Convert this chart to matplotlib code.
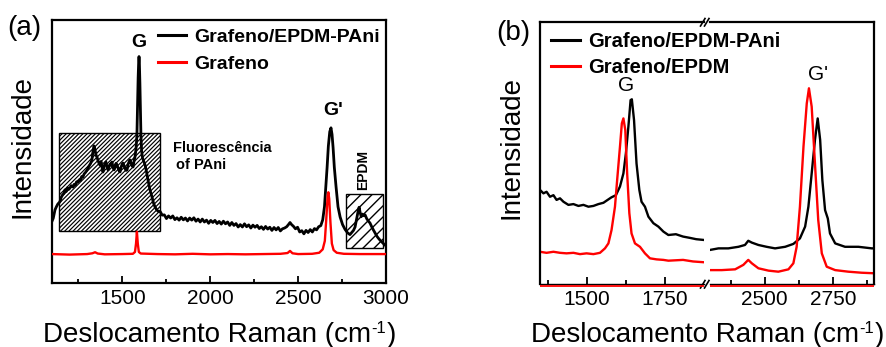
import matplotlib
matplotlib.use("Agg")
import matplotlib.pyplot as plt
from matplotlib.patches import Rectangle
from matplotlib.lines import Line2D
from matplotlib.font_manager import FontProperties
import matplotlib.transforms as mtransforms

plt.rcParams['font.family'] = ['Liberation Sans', 'DejaVu Sans']
plt.rcParams['hatch.linewidth'] = 0.9

# ---------------- data: panel (a) ----------------
a_black_x = [1100, 1107, 1112, 1117, 1125, 1133, 1145, 1152, 1160, 1167, 1174, 1181, 1188, 1195,
             1202, 1209, 1219, 1226, 1233, 1240, 1248, 1255, 1262, 1269, 1276, 1283, 1290, 1298,
             1305, 1312, 1320, 1327, 1333, 1339, 1345, 1351, 1356, 1362, 1367, 1373, 1379, 1384,
             1390, 1396, 1401, 1407, 1413, 1419, 1425, 1430, 1436, 1441, 1447, 1453, 1459, 1464,
             1470, 1476, 1481, 1487, 1493, 1498, 1504, 1510, 1516, 1521, 1527, 1533, 1538, 1544,
             1550, 1556, 1561, 1567, 1572, 1578, 1583, 1587, 1590, 1593, 1595, 1597, 1600, 1603,
             1606, 1610, 1615, 1622, 1629, 1637, 1646, 1657, 1669, 1677, 1686, 1696, 1705,
             1715, 1727, 1739, 1751, 1763, 1775, 1787, 1799, 1811, 1823, 1835, 1847, 1859, 1871,
             1883, 1895, 1907, 1919, 1931, 1943, 1955, 1967, 1979, 1991, 2003, 2015, 2027, 2039,
             2051, 2063, 2075, 2087, 2099, 2111, 2123, 2135, 2147, 2159, 2171, 2183, 2195, 2207,
             2219, 2231, 2243, 2255, 2267, 2279, 2291, 2303, 2315, 2327, 2339, 2351, 2363, 2375,
             2387, 2399, 2411, 2423, 2435, 2445, 2454, 2463, 2473, 2485, 2497, 2509, 2521, 2533,
             2545, 2557, 2569, 2581, 2593, 2605, 2617, 2629, 2640, 2650, 2658, 2665, 2672, 2680,
             2687, 2693, 2699, 2706, 2716, 2727, 2739, 2753, 2767, 2781, 2795, 2805, 2815, 2824,
             2832, 2840, 2847, 2853, 2859, 2866, 2873, 2881, 2890, 2899, 2909, 2918, 2928, 2938,
             2948, 2957, 2966, 2976, 2985, 2994, 3000]
a_black_y = [0.235, 0.246, 0.262, 0.278, 0.290, 0.300, 0.309, 0.325, 0.335, 0.340, 0.354, 0.348, 0.362, 0.356,
             0.361, 0.370, 0.365, 0.375, 0.372, 0.385, 0.384, 0.392, 0.390, 0.405, 0.403, 0.415, 0.420, 0.428,
             0.437, 0.446, 0.455, 0.468, 0.500, 0.521, 0.505, 0.485, 0.479, 0.465, 0.456, 0.448, 0.462, 0.441,
             0.422, 0.445, 0.452, 0.460, 0.440, 0.430, 0.445, 0.452, 0.448, 0.460, 0.440, 0.430, 0.442, 0.455,
             0.449, 0.436, 0.428, 0.422, 0.440, 0.450, 0.456, 0.445, 0.435, 0.428, 0.430, 0.452, 0.460, 0.468,
             0.455, 0.445, 0.441, 0.465, 0.479, 0.510, 0.560, 0.680, 0.780, 0.840, 0.861, 0.840, 0.760, 0.650,
             0.560, 0.500, 0.475, 0.462, 0.450, 0.425, 0.392, 0.355, 0.327, 0.305, 0.289, 0.278, 0.272,
             0.272, 0.258, 0.259, 0.245, 0.255, 0.247, 0.255, 0.241, 0.248, 0.239, 0.250, 0.240, 0.247, 0.236,
             0.247, 0.239, 0.248, 0.235, 0.243, 0.232, 0.243, 0.232, 0.239, 0.227, 0.238, 0.230, 0.238, 0.226,
             0.234, 0.224, 0.235, 0.225, 0.232, 0.219, 0.230, 0.219, 0.226, 0.213, 0.222, 0.213, 0.225, 0.214,
             0.221, 0.209, 0.220, 0.212, 0.219, 0.207, 0.214, 0.204, 0.215, 0.205, 0.212, 0.200, 0.211, 0.202,
             0.211, 0.198, 0.206, 0.209, 0.214, 0.222, 0.230, 0.222, 0.216, 0.206, 0.212, 0.194, 0.199, 0.187,
             0.200, 0.192, 0.203, 0.194, 0.207, 0.202, 0.214, 0.218, 0.240, 0.290, 0.370, 0.440, 0.520, 0.575,
             0.590, 0.565, 0.515, 0.440, 0.365, 0.290, 0.251, 0.222, 0.204, 0.191, 0.184, 0.192, 0.200, 0.213,
             0.240, 0.268, 0.288, 0.268, 0.252, 0.262, 0.256, 0.259, 0.245, 0.236, 0.228, 0.215, 0.202, 0.190,
             0.178, 0.170, 0.163, 0.156, 0.150, 0.144, 0.142]

a_red_x = [1100, 1200, 1300, 1330, 1345, 1360, 1400, 1500, 1560, 1572, 1578, 1583, 1588, 1594, 1605,
           1700, 1800, 1900, 2000, 2100, 2200, 2300, 2400, 2440, 2454, 2468, 2500, 2580, 2620, 2640,
           2652, 2660, 2668, 2672, 2677, 2684, 2692, 2702, 2720, 2760, 2850, 2950, 3000]
a_red_y = [0.110, 0.108, 0.110, 0.113, 0.117, 0.112, 0.109, 0.110, 0.111, 0.118, 0.150, 0.195, 0.150, 0.118, 0.112,
           0.110, 0.109, 0.111, 0.109, 0.110, 0.109, 0.110, 0.111, 0.114, 0.122, 0.113, 0.110, 0.111, 0.115, 0.128,
           0.160, 0.240, 0.330, 0.345, 0.320, 0.230, 0.150, 0.125, 0.115, 0.111, 0.110, 0.110, 0.110]

# ---------------- data: panel (b) ----------------
b1_black_x = [1350, 1361, 1371, 1382, 1393, 1403, 1414, 1425, 1441, 1457, 1473, 1489, 1505, 1521, 1537,
              1553, 1569, 1579, 1593, 1606, 1617, 1625, 1633, 1640, 1644, 1651, 1659, 1668, 1675, 1686,
              1697, 1713, 1729, 1745, 1761, 1785, 1808, 1830, 1850, 1875]
b1_black_y = [0.359, 0.346, 0.352, 0.333, 0.339, 0.321, 0.327, 0.314, 0.302, 0.305, 0.298, 0.302, 0.295, 0.298, 0.305,
              0.310, 0.323, 0.331, 0.339, 0.372, 0.422, 0.499, 0.601, 0.702, 0.705, 0.626, 0.460, 0.359, 0.314, 0.295,
              0.257, 0.232, 0.219, 0.200, 0.187, 0.190, 0.181, 0.176, 0.171, 0.168]
b1_red_x = [1350, 1371, 1393, 1414, 1435, 1457, 1478, 1499, 1521, 1542, 1558, 1569, 1579, 1590, 1597,
            1606, 1612, 1617, 1623, 1629, 1636, 1643, 1654, 1670, 1686, 1702, 1723, 1745, 1761, 1808,
            1840, 1875]
b1_red_y = [0.123, 0.119, 0.123, 0.119, 0.117, 0.119, 0.114, 0.117, 0.114, 0.119, 0.136, 0.155, 0.206, 0.295, 0.397,
            0.524, 0.613, 0.632, 0.588, 0.422, 0.270, 0.193, 0.155, 0.142, 0.117, 0.098, 0.094, 0.092, 0.089, 0.092,
            0.086, 0.083]
b2_black_x = [2300, 2331, 2367, 2404, 2428, 2440, 2453, 2477, 2507, 2538, 2575, 2605, 2629, 2648, 2660,
              2672, 2684, 2694, 2703, 2711, 2721, 2731, 2739, 2758, 2794, 2843, 2892, 2900]
b2_black_y = [0.130, 0.136, 0.136, 0.142, 0.149, 0.165, 0.158, 0.149, 0.142, 0.136, 0.142, 0.153, 0.174, 0.219, 0.295,
              0.422, 0.550, 0.632, 0.550, 0.397, 0.282, 0.250, 0.193, 0.155, 0.142, 0.142, 0.136, 0.136]
b2_red_x = [2300, 2343, 2392, 2422, 2440, 2453, 2477, 2514, 2550, 2587, 2605, 2617, 2629, 2642, 2654,
            2662, 2672, 2684, 2696, 2709, 2727, 2758, 2806, 2855, 2900]
b2_red_y = [0.053, 0.053, 0.056, 0.073, 0.092, 0.079, 0.060, 0.051, 0.047, 0.056, 0.079, 0.142, 0.295, 0.524, 0.689,
            0.747, 0.677, 0.460, 0.244, 0.117, 0.066, 0.053, 0.047, 0.043, 0.041]

a_ticks_major = [1500, 2000, 2500, 3000]
a_ticks_minor = [1250, 1750, 2250, 2750]
b1_ticks_major = [1500, 1750]
b1_ticks_minor = [1375, 1625]
b2_ticks_major = [2500, 2750]
b2_ticks_minor = [2375, 2625, 2875]

label_black = "Grafeno/EPDM-PAni"
label_red_a = "Grafeno"
label_red_b = "Grafeno/EPDM"
xlabel_parts = ("Deslocamento Raman (cm", "-1", ")")
ylabel = "Intensidade"

RED = "#ff0000"
W, H = 886, 347
fig = plt.figure(figsize=(W / 100, H / 100), dpi=100)


def box(x0, y0, x1, y1):
    """Axes rectangle from pixel coordinates (origin top-left)."""
    return [x0 / W, 1 - y1 / H, (x1 - x0) / W, (y1 - y0) / H]


def style_axis(ax, major, minor):
    ax.set_xticks(major)
    ax.set_xticks(minor, minor=True)
    ax.set_yticks([])
    ax.tick_params(axis='x', which='major', direction='in', length=5, width=1.3,
                   labelsize=15, pad=4)
    ax.tick_params(axis='x', which='minor', direction='in', length=3, width=1.3)
    for s in ax.spines.values():
        s.set_linewidth(1.6)


# ---------------- panel (a) ----------------
axa = fig.add_axes(box(52, 20, 386, 283))
axa.set_xlim(1100, 3000)
axa.set_ylim(0, 1)
style_axis(axa, a_ticks_major, a_ticks_minor)

r1 = Rectangle((1140, 0.198), 575, 0.372, facecolor='white', edgecolor='black',
               hatch='////////', lw=1.0, zorder=1)
r2 = Rectangle((2775, 0.133), 210, 0.205, facecolor='white', edgecolor='black',
               hatch='///', lw=1.0, zorder=1)
axa.add_patch(r1)
axa.add_patch(r2)
if hasattr(r1, 'set_hatch_linewidth'):
    r1.set_hatch_linewidth(0.85)
    r2.set_hatch_linewidth(1.0)

axa.plot(a_black_x, a_black_y, color='black', lw=2.0, zorder=3)
axa.plot(a_red_x, a_red_y, color=RED, lw=1.7, zorder=3)

bold14 = FontProperties(family=['Liberation Sans', 'DejaVu Sans'], weight='bold', size=14)
handles_a = [Line2D([], [], color='black', lw=2.2), Line2D([], [], color=RED, lw=2.2)]
axa.legend(handles_a, [label_black, label_red_a], loc='upper left',
           bbox_to_anchor=(0.317, 0.967), frameon=False, prop=bold14,
           handlelength=1.45, handletextpad=0.4, labelspacing=0.46,
           borderpad=0, borderaxespad=0)

axa.text(1595, 0.916, "G", ha='center', va='center', fontsize=14, fontweight='bold')
axa.text(2699, 0.654, "G'", ha='center', va='center', fontsize=14, fontweight='bold')
axa.text(1788, 0.515, "Fluorescência", ha='left', va='center', fontsize=10.5, fontweight='bold')
axa.text(1808, 0.447, "of PAni", ha='left', va='center', fontsize=10.5, fontweight='bold')
axa.text(2869, 0.430, "EPDM", ha='center', va='center', fontsize=10, fontweight='bold',
         rotation=90)

# ---------------- panel (b) ----------------
axb1 = fig.add_axes(box(540, 22, 704, 284))
axb2 = fig.add_axes(box(710, 22, 874, 284))
axb1.set_xlim(1350, 1875)
axb2.set_xlim(2300, 2900)
for ax, mj, mn in ((axb1, b1_ticks_major, b1_ticks_minor), (axb2, b2_ticks_major, b2_ticks_minor)):
    ax.set_ylim(0, 1)
    ax.patch.set_visible(False)
    style_axis(ax, mj, mn)
    ax.spines['bottom'].set_linewidth(1.0)
    # red line running under the bottom axis
    off = mtransforms.ScaledTranslation(0, -1.3 / 72, fig.dpi_scale_trans)
    ax.plot([0, 1], [0, 0], color=RED, lw=1.3, transform=ax.transAxes + off,
            clip_on=False, zorder=5, solid_capstyle='butt')
axb1.spines['right'].set_visible(False)
axb2.spines['left'].set_visible(False)
axb1.set_zorder(3)

axb1.plot(b1_black_x, b1_black_y, color='black', lw=1.7)
axb1.plot(b1_red_x, b1_red_y, color=RED, lw=1.7)
axb2.plot(b2_black_x, b2_black_y, color='black', lw=1.7)
axb2.plot(b2_red_x, b2_red_y, color=RED, lw=1.7)

bold145 = FontProperties(family=['Liberation Sans', 'DejaVu Sans'], weight='bold', size=14.5)
handles_b = [Line2D([], [], color='black', lw=2.2), Line2D([], [], color=RED, lw=2.2)]
axb1.legend(handles_b, [label_black, label_red_b], loc='upper left',
            bbox_to_anchor=(0.068, 0.962), frameon=False, prop=bold145,
            handlelength=1.45, handletextpad=0.4, labelspacing=0.35,
            borderpad=0, borderaxespad=0)

axb1.text(1625, 0.756, "G", ha='center', va='center', fontsize=15)
axb2.text(2695, 0.798, "G'", ha='center', va='center', fontsize=15)

# axis-break marks on the top and bottom spines
for yb in (18.5, 280.5):
    for xs in (700.5, 704.5):
        fig.add_artist(Line2D([xs / W, (xs + 4.5) / W], [1 - (yb + 7.5) / H, 1 - yb / H],
                              color='black', lw=1.2, transform=fig.transFigure))


# ---------------- shared texts ----------------
def xlabel_at(xc_px, base_px, size=20):
    """Axis title with a raised '-1' exponent, centred at xc_px."""
    main, sup, close = xlabel_parts
    t1 = fig.text(0, 1 - base_px / H, main, ha='left', va='baseline', fontsize=size)
    t2 = fig.text(0, 1 - (base_px - 9) / H, sup, ha='left', va='baseline', fontsize=size * 0.6)
    t3 = fig.text(0, 1 - base_px / H, close, ha='left', va='baseline', fontsize=size)
    r = fig.canvas.get_renderer()
    w1 = t1.get_window_extent(r).width
    w2 = t2.get_window_extent(r).width
    w3 = t3.get_window_extent(r).width
    x0 = xc_px - (w1 + w2 + w3) / 2
    t1.set_x(x0 / W)
    t2.set_x((x0 + w1 + 0.5) / W)
    t3.set_x((x0 + w1 + w2 + 1) / W)


xlabel_at(219, 342)
xlabel_at(707, 342)
fig.text(23 / W, 1 - 147 / H, ylabel, ha='center', va='center', rotation=90, fontsize=20)
fig.text(512 / W, 1 - 148 / H, ylabel, ha='center', va='center', rotation=90, fontsize=20)
fig.text(24 / W, 1 - 28 / H, "(a)", ha='center', va='center', fontsize=20)
fig.text(513 / W, 1 - 33 / H, "(b)", ha='center', va='center', fontsize=20)

fig.savefig("out.png", dpi=100)
